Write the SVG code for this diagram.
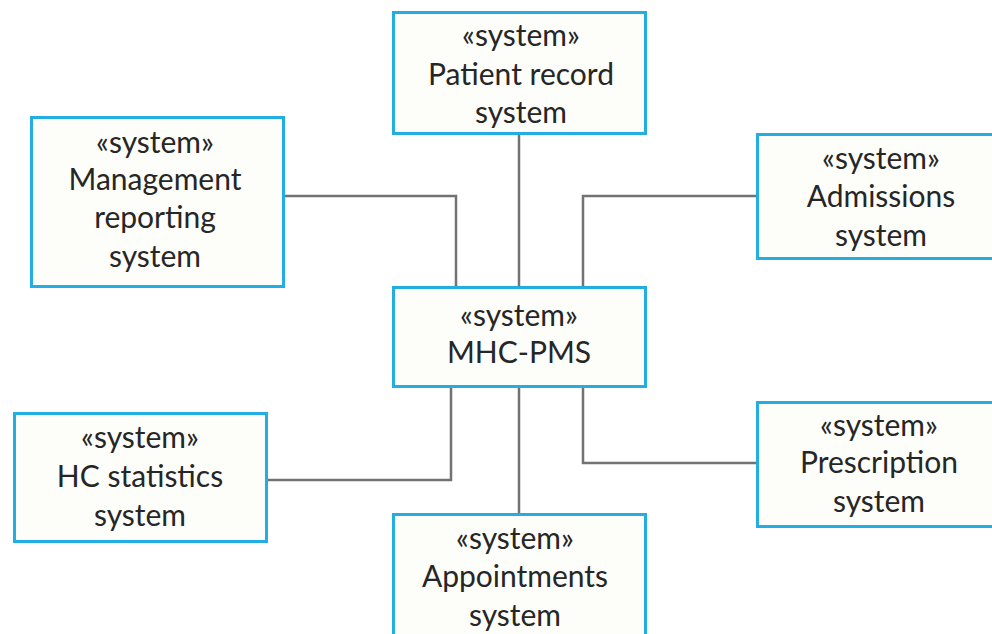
<svg xmlns="http://www.w3.org/2000/svg" width="992" height="634" viewBox="0 0 992 634">
<style>
.box{fill:#fdfdf9;stroke:#22aee3;stroke-width:3}
.lbl{font-family:Lato,"Open Sans",sans-serif;font-size:30px;fill:#262626;text-anchor:middle}
.con{fill:none;stroke:#727272;stroke-width:2.5}
</style>
<rect width="992" height="634" fill="#ffffff"/>
<g id="connectors">
<path class="con" d="M519,134 V287"/>
<path class="con" d="M284,196 H456 V287"/>
<path class="con" d="M757,196 H583 V287"/>
<path class="con" d="M267,480 H451 V387"/>
<path class="con" d="M519,387 V514"/>
<path class="con" d="M583,387 V463 H757"/>
</g>
<g id="patient-record">
<rect class="box" x="393.5" y="12.5" width="252" height="121"/>
<text class="lbl" x="521" y="46">«system»</text>
<text class="lbl" x="521" y="85">Patient record</text>
<text class="lbl" x="521" y="123">system</text>
</g>
<g id="management-reporting">
<rect class="box" x="31.5" y="117.5" width="252" height="169"/>
<text class="lbl" x="155" y="153">«system»</text>
<text class="lbl" x="155" y="190">Management</text>
<text class="lbl" x="155" y="228">reporting</text>
<text class="lbl" x="155" y="267">system</text>
</g>
<g id="admissions">
<rect class="box" x="757.5" y="134.5" width="250" height="124"/>
<text class="lbl" x="881" y="169">«system»</text>
<text class="lbl" x="881" y="207">Admissions</text>
<text class="lbl" x="881" y="246">system</text>
</g>
<g id="mhc-pms">
<rect class="box" x="393.5" y="287.5" width="252" height="99"/>
<text class="lbl" x="519" y="326">«system»</text>
<text class="lbl" x="519" y="363">MHC-PMS</text>
</g>
<g id="hc-statistics">
<rect class="box" x="14.5" y="413.5" width="252" height="128"/>
<text class="lbl" x="140" y="448">«system»</text>
<text class="lbl" x="140" y="487">HC statistics</text>
<text class="lbl" x="140" y="526">system</text>
</g>
<g id="prescription">
<rect class="box" x="757.5" y="402.5" width="250" height="124"/>
<text class="lbl" x="879" y="436">«system»</text>
<text class="lbl" x="879" y="473">Prescription</text>
<text class="lbl" x="879" y="512">system</text>
</g>
<g id="appointments">
<rect class="box" x="393.5" y="514.5" width="252" height="130"/>
<text class="lbl" x="515" y="549">«system»</text>
<text class="lbl" x="515" y="587">Appointments</text>
<text class="lbl" x="515" y="626">system</text>
</g>
</svg>
